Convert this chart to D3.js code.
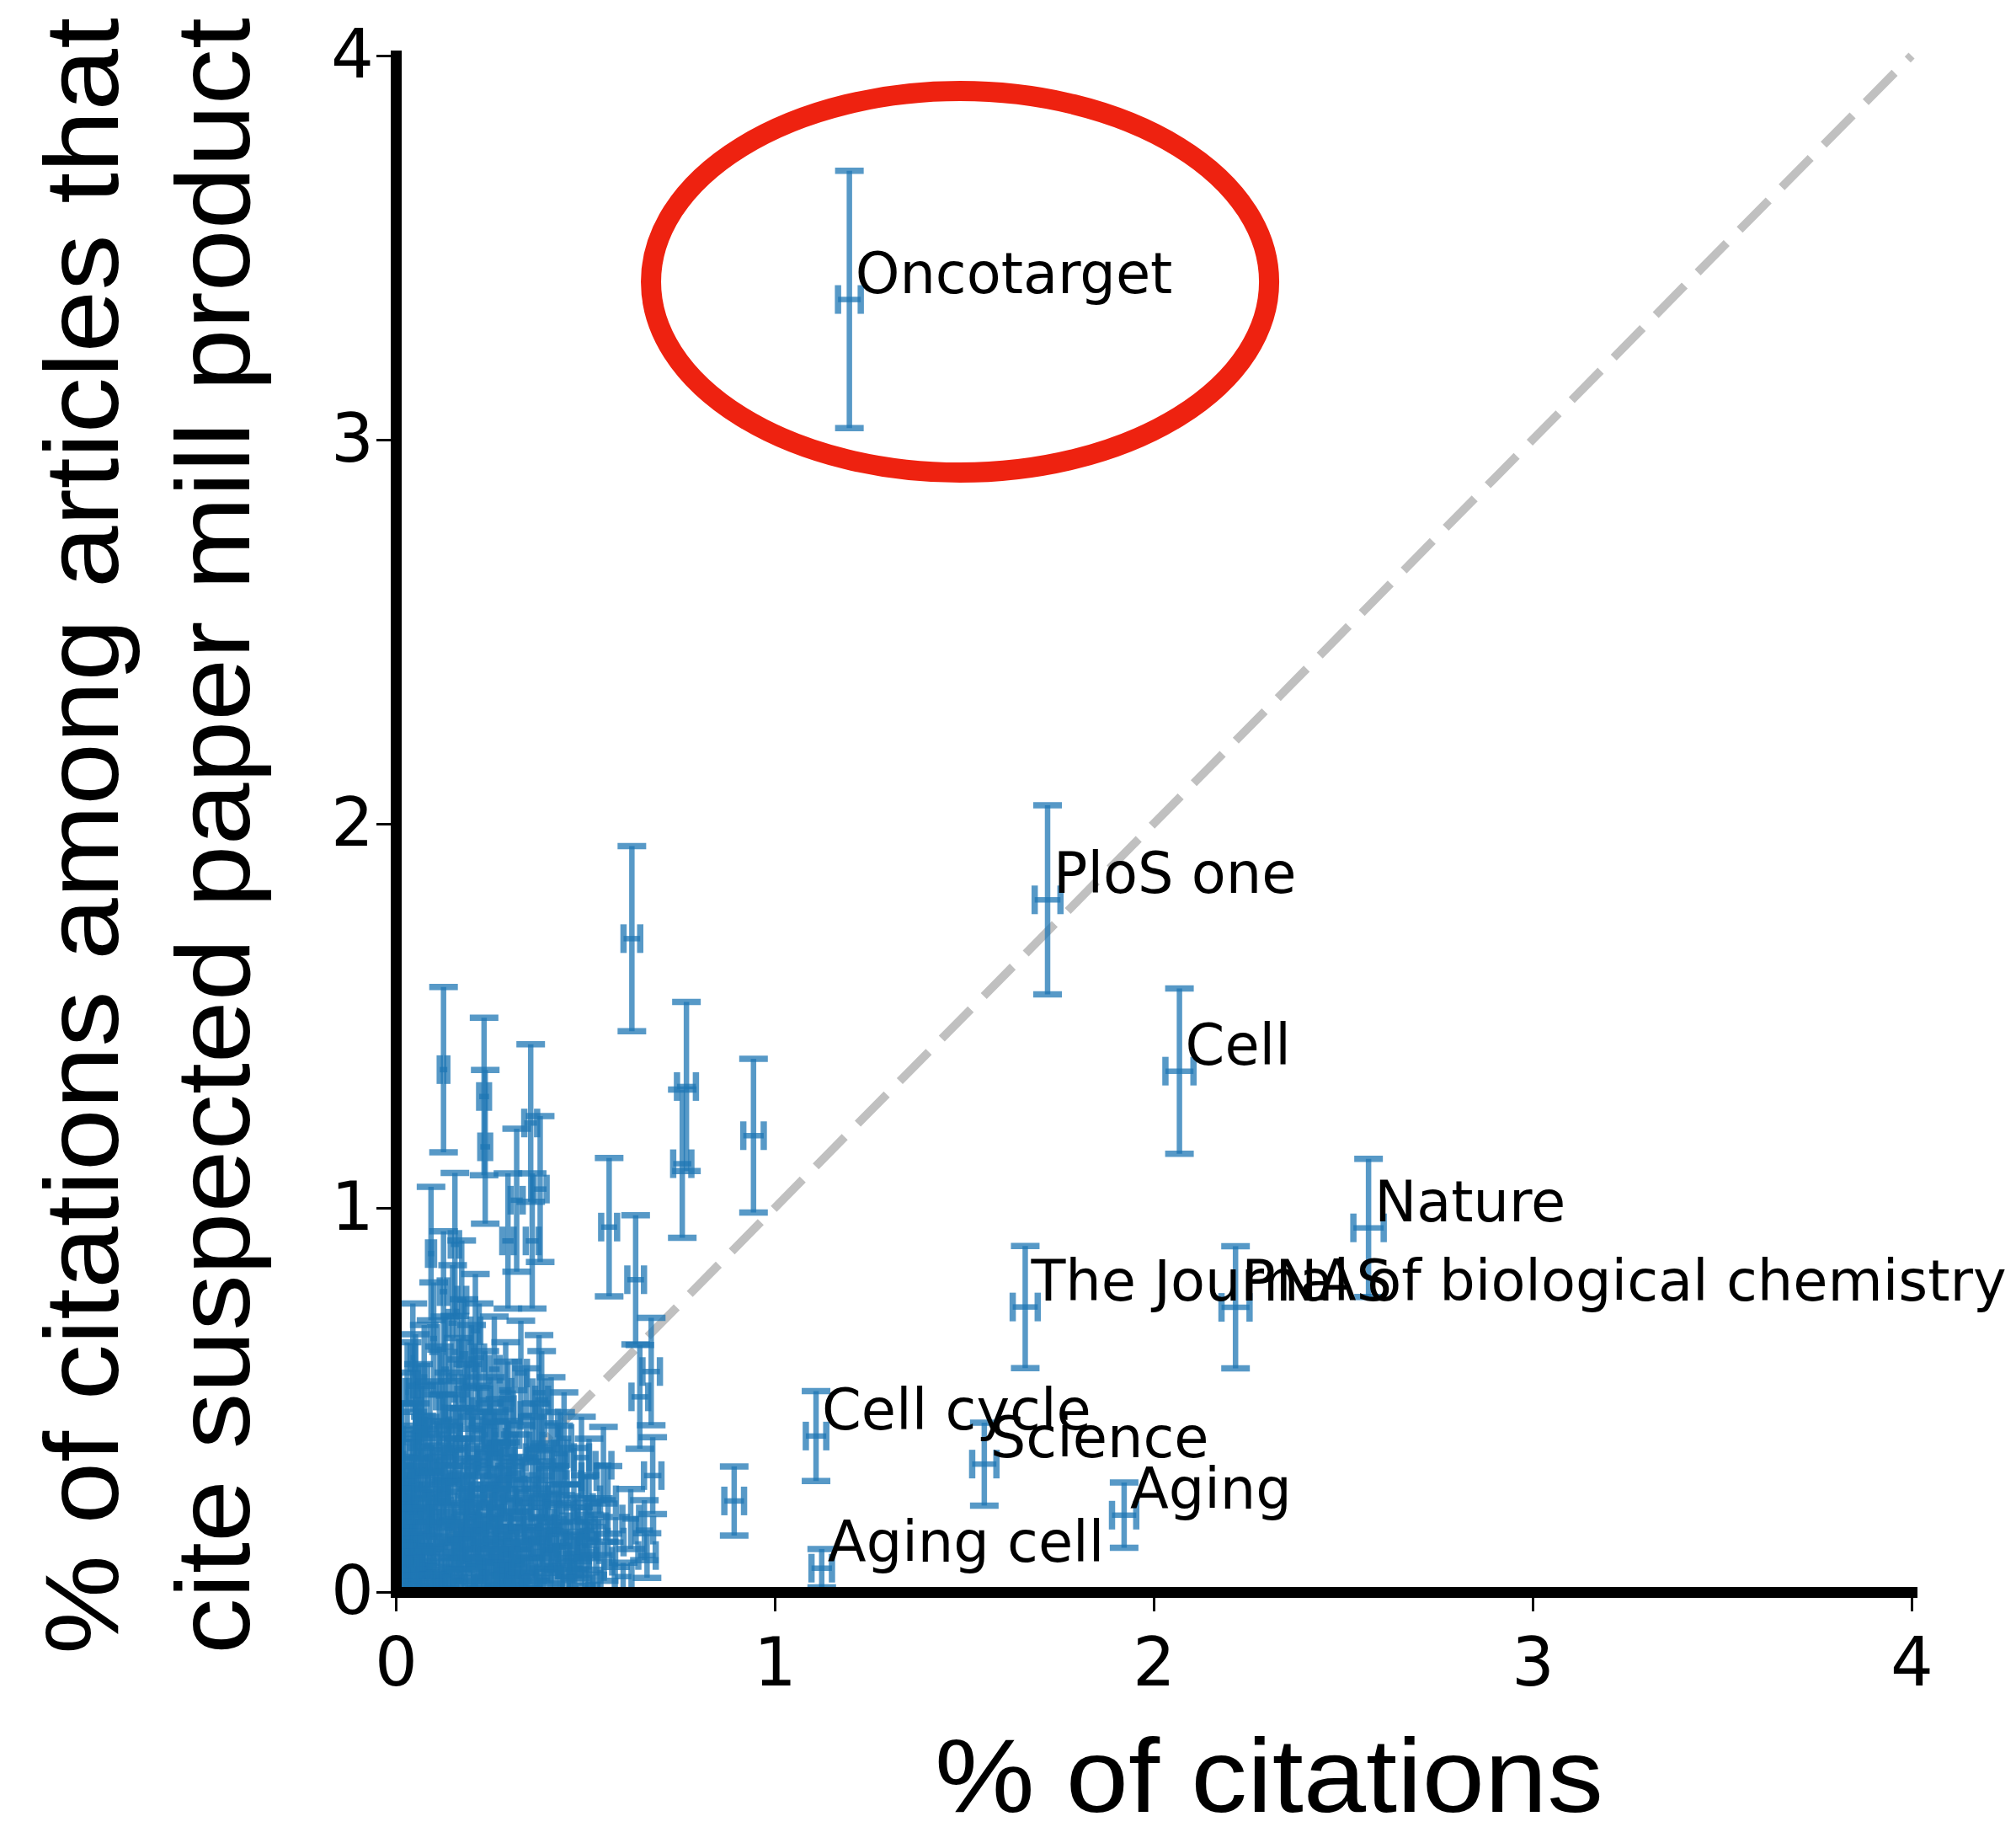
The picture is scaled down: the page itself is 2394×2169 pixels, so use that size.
<!DOCTYPE html>
<html>
<head>
<meta charset="utf-8">
<script src="https://cdn.jsdelivr.net/npm/d3@7"></script>
<style>
  html, body { margin: 0; padding: 0; background: #ffffff; }
  svg { display: block; }
</style>
</head>
<body>
<script>
// ---------------- DATA ----------------
// Labelled journals
const journalNames = ["Oncotarget", "PloS one", "Cell", "Nature",
  "The Journal of biological chemistry", "PNAS", "Cell cycle", "Science", "Aging", "Aging cell"];
const journalX    = [1.197, 1.720, 2.068, 2.567, 1.661, 2.216, 1.109, 1.553, 1.922, 1.124];
const journalY    = [3.365, 1.802, 1.356, 0.948, 0.742, 0.741, 0.406, 0.333, 0.200, 0.062];
const journalXErr = [0.030, 0.034, 0.037, 0.040, 0.033, 0.037, 0.027, 0.032, 0.032, 0.027];
const journalYErr = [0.335, 0.246, 0.215, 0.180, 0.159, 0.159, 0.117, 0.108, 0.085, 0.050];

// Unlabelled journals: [x, y, xErr, yErr]
const otherPoints = [
  [0.623,1.701,0.022,0.241],[0.126,1.360,0.010,0.215],[0.233,1.290,0.013,0.205],[0.236,1.159,0.013,0.200],
  [0.356,1.221,0.017,0.205],[0.381,1.049,0.017,0.190],[0.296,0.914,0.015,0.176],[0.360,0.914,0.017,0.176],
  [0.319,1.020,0.016,0.186],[0.093,0.881,0.008,0.174],[0.156,0.905,0.011,0.186],[0.126,0.782,0.010,0.157],
  [0.174,0.760,0.012,0.155],[0.563,0.950,0.021,0.180],[0.633,0.813,0.022,0.168],[0.756,1.115,0.024,0.193],
  [0.767,1.316,0.025,0.220],[0.944,1.188,0.027,0.200],[0.674,0.574,0.023,0.140],[0.644,0.508,0.022,0.135],
  [0.678,0.303,0.023,0.100],[0.656,0.161,0.023,0.078],[0.663,0.095,0.023,0.058],[0.893,0.237,0.026,0.090],
  [0.052,0.541,0.006,0.130],[0.378,0.519,0.017,0.150],[0.296,0.475,0.015,0.125],[0.444,0.400,0.019,0.120],
  [0.548,0.330,0.021,0.100],
  // dense core
  [0.005,0.02,0.002,0.025],[0.010,0.05,0.003,0.040],[0.012,0.11,0.003,0.060],[0.015,0.18,0.003,0.076],
  [0.018,0.26,0.004,0.092],[0.020,0.33,0.004,0.103],[0.022,0.08,0.004,0.051],[0.025,0.14,0.004,0.067],
  [0.028,0.22,0.005,0.084],[0.030,0.01,0.005,0.018],[0.035,0.30,0.005,0.099],[0.038,0.06,0.005,0.044],
  [0.040,0.17,0.006,0.074],[0.045,0.24,0.006,0.088],[0.050,0.12,0.006,0.062],[0.052,0.38,0.006,0.111],
  [0.055,0.03,0.007,0.031],[0.060,0.20,0.007,0.080],[0.065,0.28,0.007,0.095],[0.070,0.09,0.007,0.054],
  [0.072,0.15,0.008,0.070],[0.078,0.35,0.008,0.106],[0.080,0.04,0.008,0.036],[0.085,0.23,0.008,0.086],
  [0.090,0.12,0.008,0.062],[0.095,0.31,0.009,0.100],[0.100,0.07,0.009,0.048],[0.105,0.18,0.009,0.076],
  [0.110,0.02,0.009,0.025],[0.115,0.26,0.009,0.092],[0.120,0.13,0.010,0.065],[0.125,0.40,0.010,0.114],
  [0.130,0.05,0.010,0.040],[0.135,0.21,0.010,0.082],[0.140,0.33,0.010,0.103],[0.145,0.09,0.011,0.054],
  [0.150,0.16,0.011,0.072],[0.155,0.28,0.011,0.095],[0.160,0.03,0.011,0.031],[0.165,0.11,0.011,0.060],
  [0.170,0.37,0.012,0.109],[0.175,0.22,0.012,0.084],[0.180,0.06,0.012,0.044],[0.185,0.14,0.012,0.067],
  [0.190,0.30,0.012,0.099],[0.195,0.01,0.012,0.018],[0.200,0.19,0.013,0.078],[0.205,0.09,0.013,0.054],
  [0.210,0.25,0.013,0.090],[0.215,0.42,0.013,0.117],[0.220,0.04,0.013,0.036],[0.225,0.13,0.013,0.065],
  [0.230,0.33,0.013,0.103],[0.235,0.20,0.014,0.080],[0.240,0.08,0.014,0.051],[0.245,0.27,0.014,0.094],
  [0.250,0.15,0.014,0.070],[0.255,0.02,0.014,0.025],[0.260,0.36,0.014,0.108],[0.265,0.11,0.014,0.060],
  [0.270,0.22,0.015,0.084],[0.275,0.06,0.015,0.044],[0.280,0.29,0.015,0.097],[0.285,0.17,0.015,0.074],
  [0.290,0.10,0.015,0.057],[0.295,0.03,0.015,0.031],[0.300,0.24,0.015,0.088],[0.305,0.14,0.015,0.067],
  [0.310,0.07,0.016,0.048],[0.315,0.31,0.016,0.100],
  [0.008,0.15,0.003,0.070],[0.015,0.38,0.003,0.111],[0.032,0.10,0.005,0.057],[0.048,0.32,0.006,0.102],
  [0.062,0.06,0.007,0.044],[0.068,0.42,0.007,0.117],[0.088,0.19,0.008,0.078],[0.098,0.02,0.009,0.025],
  [0.108,0.34,0.009,0.105],[0.128,0.27,0.010,0.094],[0.142,0.01,0.011,0.018],[0.158,0.40,0.011,0.114],
  [0.172,0.12,0.012,0.062],[0.188,0.24,0.012,0.088],[0.202,0.35,0.013,0.106],[0.218,0.16,0.013,0.072],
  [0.232,0.05,0.013,0.040],[0.248,0.38,0.014,0.111],[0.262,0.19,0.014,0.078],[0.282,0.04,0.015,0.036],
  [0.298,0.34,0.015,0.105],
  // middle band
  [0.320,0.19,0.016,0.078],[0.330,0.02,0.016,0.025],[0.335,0.26,0.016,0.092],[0.340,0.11,0.016,0.060],
  [0.350,0.05,0.017,0.040],[0.355,0.16,0.017,0.072],[0.360,0.35,0.017,0.106],[0.370,0.09,0.017,0.054],
  [0.375,0.22,0.017,0.084],[0.380,0.13,0.017,0.065],[0.390,0.03,0.017,0.031],[0.395,0.29,0.018,0.097],
  [0.400,0.18,0.018,0.076],[0.410,0.07,0.018,0.048],[0.420,0.24,0.018,0.088],[0.430,0.12,0.018,0.062],
  [0.435,0.36,0.018,0.108],[0.440,0.04,0.019,0.036],[0.450,0.20,0.019,0.080],[0.460,0.10,0.019,0.057],
  [0.470,0.28,0.019,0.095],[0.480,0.15,0.019,0.070],[0.490,0.06,0.020,0.044],[0.500,0.22,0.020,0.084],
  [0.510,0.12,0.020,0.062],[0.520,0.02,0.020,0.025],[0.535,0.17,0.020,0.074],[0.550,0.08,0.021,0.051],
  [0.560,0.24,0.021,0.088],[0.580,0.13,0.021,0.065],[0.600,0.04,0.022,0.036],[0.620,0.19,0.022,0.078],
  [0.322,0.08,0.016,0.051],[0.342,0.21,0.016,0.082],[0.362,0.01,0.017,0.018],[0.385,0.25,0.017,0.090],
  [0.405,0.11,0.018,0.060],[0.425,0.16,0.018,0.072],[0.455,0.03,0.019,0.031],[0.475,0.09,0.019,0.054],
  [0.505,0.16,0.020,0.072],
  // upper part of the cluster
  [0.010,0.45,0.003,0.121],[0.030,0.52,0.005,0.130],[0.045,0.61,0.006,0.141],[0.060,0.47,0.007,0.123],
  [0.075,0.56,0.008,0.135],[0.090,0.43,0.008,0.118],[0.100,0.66,0.009,0.146],[0.115,0.51,0.009,0.129],
  [0.130,0.58,0.010,0.137],[0.140,0.45,0.010,0.121],[0.150,0.70,0.011,0.151],[0.165,0.53,0.011,0.131],
  [0.180,0.62,0.012,0.142],[0.190,0.47,0.012,0.123],[0.200,0.56,0.013,0.135],[0.210,0.68,0.013,0.148],
  [0.220,0.61,0.013,0.141],[0.235,0.50,0.014,0.127],[0.250,0.44,0.014,0.119],[0.260,0.58,0.014,0.137],
  [0.275,0.39,0.015,0.112],[0.290,0.52,0.015,0.130],[0.310,0.41,0.016,0.115],[0.330,0.57,0.016,0.136],
  [0.345,0.46,0.016,0.122],[0.370,0.38,0.017,0.111],[0.385,0.50,0.017,0.127],[0.410,0.44,0.018,0.119],
  [0.430,0.33,0.018,0.103],[0.490,0.35,0.020,0.106],[0.510,0.30,0.020,0.099]
];

const xTicks = [0, 1, 2, 3, 4];
const yTicks = [0, 1, 2, 3, 4];
const xTitle = "% of citations";
const yTitleLines = ["% of citations among articles that", "cite suspected paper mill product"];
// highlight ellipse around Oncotarget, in data units: [cx, cy, rx, ry]
const highlightEllipse = [1.489, 3.411, 0.8156, 0.4967];
const diagonal = [[0, 0], [4, 4]];

// ---------------- DRAWING ----------------
const W = 2394, H = 2169;
const x = d3.scaleLinear().domain([0, 4]).range([470, 2270]);
const y = d3.scaleLinear().domain([0, 4]).range([1890, 66]);

const svg = d3.select("body").append("svg")
  .attr("width", W).attr("height", H)
  .style("background", "#ffffff");

svg.append("defs").append("clipPath").attr("id", "plotClip")
  .append("rect")
  .attr("x", x(0)).attr("y", y(4))
  .attr("width", x(4) - x(0)).attr("height", y(0) - y(4));

// diagonal y = x
svg.append("line")
  .attr("x1", x(diagonal[0][0])).attr("y1", y(diagonal[0][1]))
  .attr("x2", x(diagonal[1][0])).attr("y2", y(diagonal[1][1]))
  .attr("stroke", "#c0c0c0").attr("stroke-width", 10)
  .attr("stroke-dasharray", "49 22");

// error bars
const pts = otherPoints.map(p => ({ x: p[0], y: p[1], xe: p[2], ye: p[3] }))
  .concat(journalNames.map((n, i) => ({
    x: journalX[i], y: journalY[i], xe: journalXErr[i], ye: journalYErr[i], name: n })));

const CAP = 17, LW = 6.5, CW = 7.5;
const BLUE = "#1f77b4", ALPHA = 0.75;

const gData = svg.append("g").attr("clip-path", "url(#plotClip)");
gData.selectAll("g.pt").data(pts).join("g").attr("class", "pt").each(function(d) {
  const g = d3.select(this);
  const cx = x(d.x), cy = y(d.y);
  const yt = y(d.y + d.ye), yb = y(d.y - d.ye);
  const xl = x(d.x - d.xe), xr = x(d.x + d.xe);
  const segs = [
    [cx, yb, cx, yt, LW],
    [cx - CAP, yt, cx + CAP, yt, CW],
    [cx - CAP, yb, cx + CAP, yb, CW],
    [xl, cy, xr, cy, LW],
    [xl, cy - CAP, xl, cy + CAP, CW],
    [xr, cy - CAP, xr, cy + CAP, CW]
  ];
  g.selectAll("line").data(segs).join("line")
    .attr("x1", s => s[0]).attr("y1", s => s[1])
    .attr("x2", s => s[2]).attr("y2", s => s[3])
    .attr("stroke", BLUE).attr("stroke-opacity", ALPHA)
    .attr("stroke-width", s => s[4]);
});

// axes
const xAxis = d3.axisBottom(x).tickValues(xTicks).tickSize(23).tickSizeOuter(0)
  .tickPadding(31).tickFormat(d3.format("d"));
const gx = svg.append("g").attr("transform", `translate(0,${y(0)})`).call(xAxis);

const yAxis = d3.axisLeft(y).tickValues(yTicks).tickSize(23).tickSizeOuter(0)
  .tickPadding(3).tickFormat(d3.format("d"));
const gy = svg.append("g").attr("transform", `translate(${x(0)},0)`).call(yAxis);

[gx, gy].forEach(ga => {
  ga.select(".domain").attr("stroke", "#000").attr("stroke-width", 13)
    .attr("stroke-linecap", "square");
  ga.selectAll(".tick line").attr("stroke", "#000").attr("stroke-width", 3);
  ga.selectAll(".tick text")
    .attr("font-family", "'DejaVu Sans', sans-serif")
    .attr("font-size", 80).attr("fill", "#000");
});
gx.raise();

// journal labels
svg.append("g").selectAll("text").data(pts.filter(d => d.name)).join("text")
  .attr("x", d => x(d.x) + 7)
  .attr("y", d => y(d.y) - 8)
  .attr("font-family", "'DejaVu Sans', sans-serif")
  .attr("font-size", 67)
  .attr("fill", "#000")
  .text(d => d.name);

// axis titles
svg.append("text")
  .attr("x", 1110).attr("y", 2151)
  .attr("font-family", "'Liberation Sans', Arial, Helvetica, sans-serif")
  .attr("font-size", 124)
  .attr("textLength", 794).attr("lengthAdjust", "spacingAndGlyphs")
  .attr("fill", "#000")
  .text(xTitle);

const yTitleBaselines = [140, 296];
yTitleLines.forEach((t, i) => {
  svg.append("text")
    .attr("transform", `translate(${yTitleBaselines[i]},1964) rotate(-90)`)
    .attr("font-family", "'Liberation Sans', Arial, Helvetica, sans-serif")
    .attr("font-size", 124)
    .attr("textLength", 1943).attr("lengthAdjust", "spacingAndGlyphs")
    .attr("fill", "#000")
    .text(t);
});

// red highlight ellipse
const [ecx, ecy, erx, ery] = highlightEllipse;
svg.append("ellipse")
  .attr("cx", x(ecx)).attr("cy", y(ecy))
  .attr("rx", x(ecx + erx) - x(ecx))
  .attr("ry", y(ecy) - y(ecy + ery))
  .attr("fill", "none")
  .attr("stroke", "#ee2210")
  .attr("stroke-width", 24);
</script>
</body>
</html>
